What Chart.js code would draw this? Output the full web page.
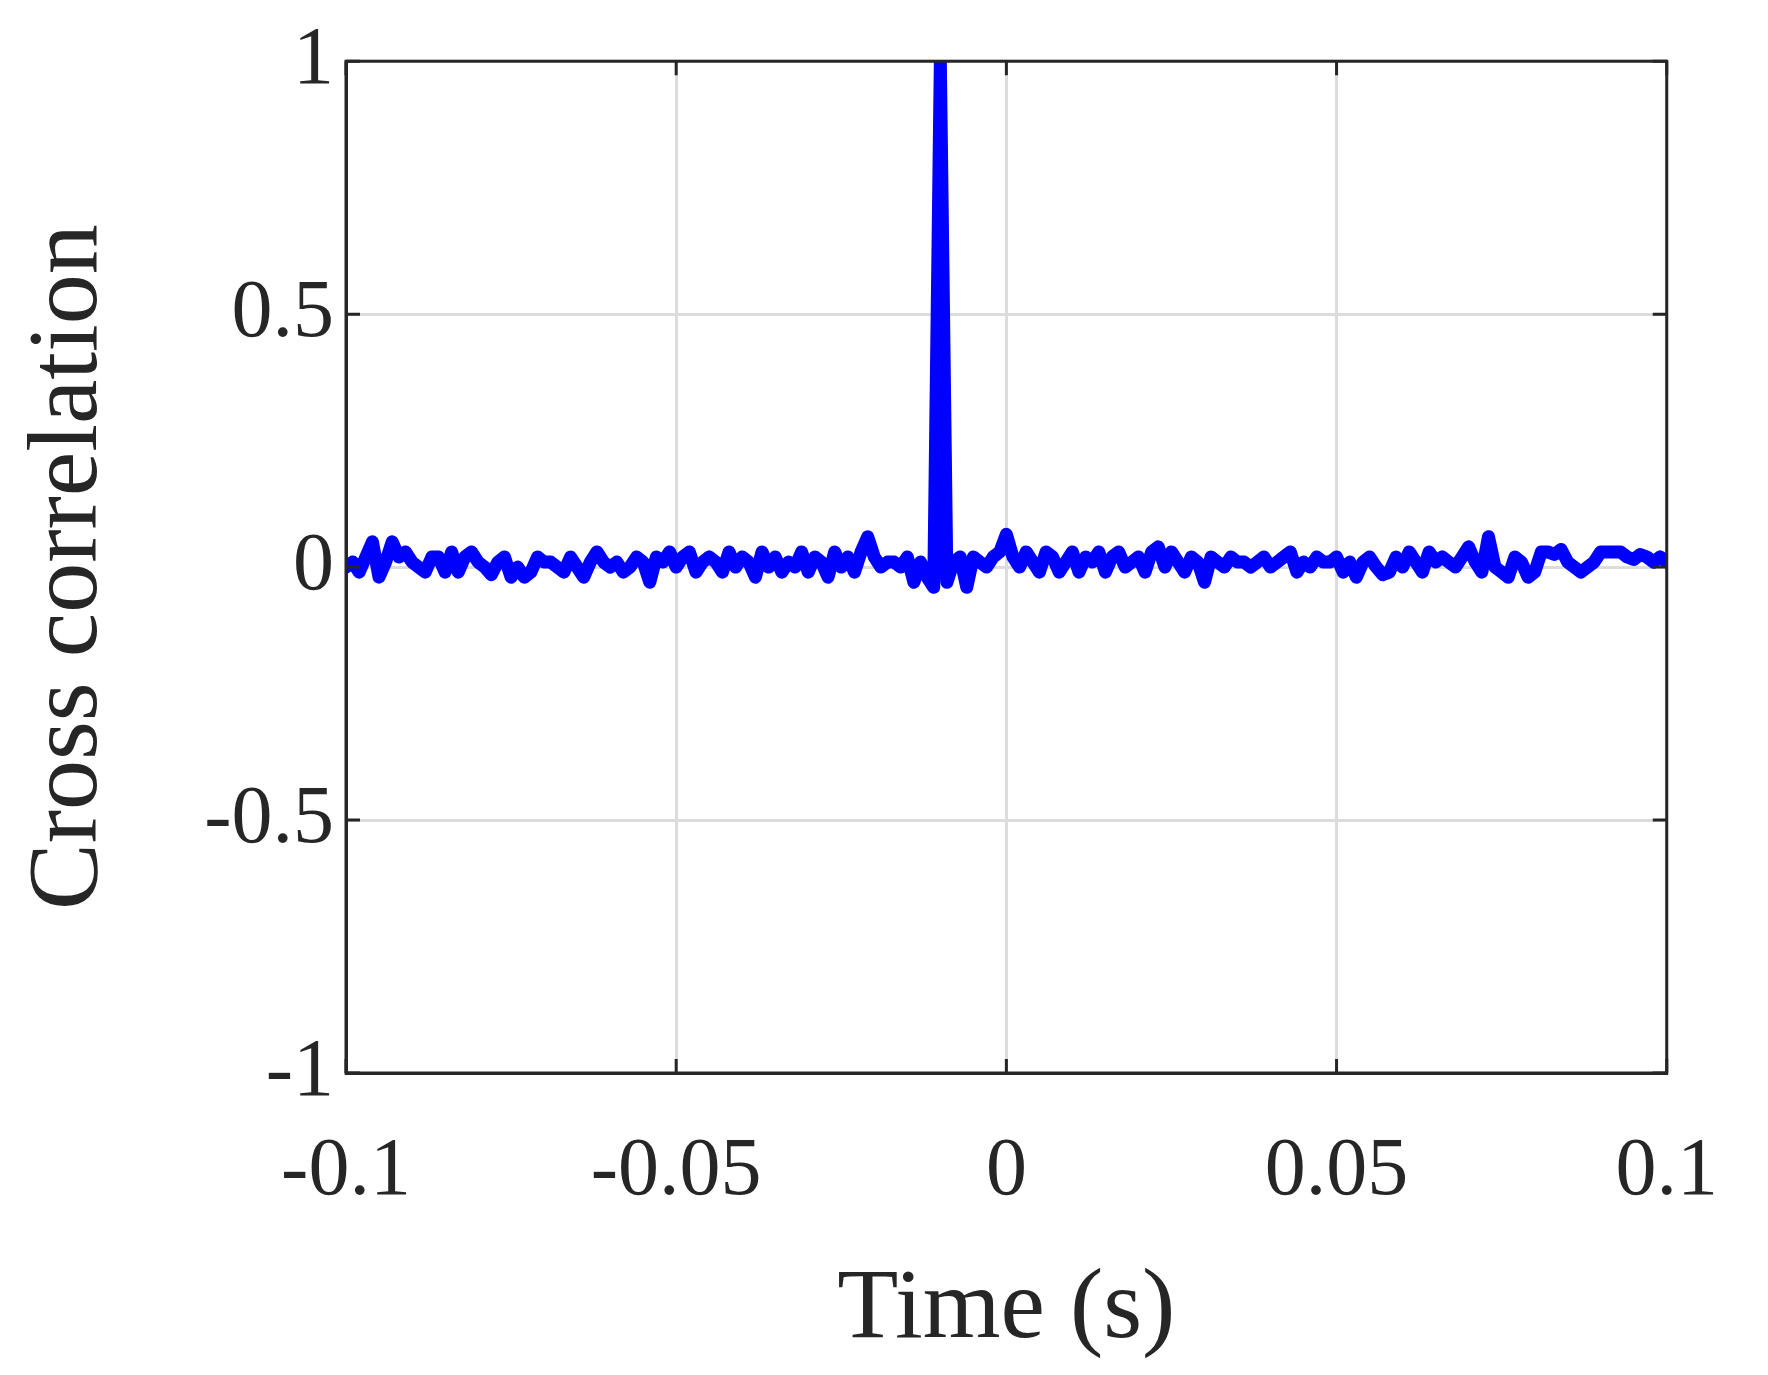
<!DOCTYPE html>
<html>
<head>
<meta charset="utf-8">
<script src="https://cdn.jsdelivr.net/npm/chart.js@4"></script>
<style>
  html, body { margin: 0; padding: 0; background: #fff; }
  canvas { display: block; }
</style>
</head>
<body>
<canvas id="myChart" width="1768" height="1375"></canvas>
<script>
// sample spacing of the cross correlation (s)
const tStart = -0.1;
const tStep = 0.001;

// cross correlation values, one per sample
const corr = [
  0, 0.01, -0.01, 0.02, 0.05, -0.02, 0.01, 0.05, 0.02, 0.03,
  0.01, 0, -0.01, 0.02, 0.02, -0.01, 0.03, -0.01, 0.02, 0.03,
  0.01, 0, -0.015, 0.01, 0.02, -0.02, 0, -0.02, -0.01, 0.02,
  0.01, 0.01, 0, -0.01, 0.02, 0, -0.02, 0.01, 0.03, 0.01,
  0, 0.01, -0.01, 0, 0.02, 0.01, -0.03, 0.02, 0.01, 0.03,
  0, 0.02, 0.03, -0.01, 0.01, 0.02, 0.01, -0.01, 0.03, 0,
  0.02, 0.01, -0.02, 0.03, 0, 0.02, -0.01, 0.01, 0, 0.03,
  -0.01, 0.02, 0.01, -0.02, 0.03, 0, 0.02, -0.01, 0.03, 0.06,
  0.02, 0, 0.01, 0.01, 0, 0.02, -0.03, 0.01, -0.02, -0.04,
  1, -0.03, 0.01, 0.02, -0.04, 0.02, 0.01, 0, 0.02, 0.03,
  0.065, 0.02, 0, 0.03, 0.01, -0.01, 0.03, 0.02, -0.01, 0.01,
  0.03, -0.01, 0.02, 0.01, 0.03, -0.01, 0.02, 0.03, 0, 0.01,
  0.02, -0.01, 0.03, 0.04, 0, 0.03, 0.01, -0.01, 0.02, 0.01,
  -0.03, 0.02, 0.01, 0, 0.02, 0.01, 0.01, 0, 0.01, 0.02,
  0, 0.01, 0.02, 0.03, -0.01, 0.01, 0, 0.02, 0.01, 0.01,
  0.02, -0.01, 0.01, -0.02, 0.01, 0.02, 0, -0.015, -0.01, 0.02,
  0, 0.03, 0.01, -0.01, 0.03, 0.01, 0.02, 0.01, 0, 0.02,
  0.04, 0.01, -0.01, 0.06, 0, -0.01, -0.02, 0.02, 0.01, -0.02,
  -0.01, 0.03, 0.03, 0.025, 0.035, 0.01, 0, -0.01, 0, 0.01,
  0.03, 0.03, 0.03, 0.03, 0.02, 0.015, 0.025, 0.02, 0.01, 0.02, 0.01
];

const xTicks = [-0.1, -0.05, 0, 0.05, 0.1];
const xTickLabels = ['-0.1', '-0.05', '0', '0.05', '0.1'];
const yTicks = [-1, -0.5, 0, 0.5, 1];
const yTickLabels = ['-1', '-0.5', '0', '0.5', '1'];

const puntos = corr.map((v, i) => ({ x: tStart + i * tStep, y: v }));

const fuente = 'Liberation Serif, Times New Roman, serif';
const tinta = '#262626';

function etiqueta(valores, textos, v) {
  for (let i = 0; i < valores.length; i++) {
    if (Math.abs(valores[i] - v) < 1e-9) return textos[i];
  }
  return '';
}

// marcas de tick hacia adentro, como en MATLAB
const ticksAdentro = {
  id: 'ticksAdentro',
  afterDraw(chart) {
    const c = chart.ctx;
    const a = chart.chartArea;
    const sx = chart.scales.x, sy = chart.scales.y;
    const len = 14;
    c.save();
    c.strokeStyle = tinta;
    c.lineWidth = 3;
    c.beginPath();
    xTicks.forEach(t => {
      const px = sx.getPixelForValue(t);
      c.moveTo(px, a.bottom); c.lineTo(px, a.bottom - len);
      c.moveTo(px, a.top); c.lineTo(px, a.top + len);
    });
    yTicks.forEach(t => {
      const py = sy.getPixelForValue(t);
      c.moveTo(a.left, py); c.lineTo(a.left + len, py);
      c.moveTo(a.right, py); c.lineTo(a.right - len, py);
    });
    c.stroke();
    c.strokeRect(a.left, a.top, a.right - a.left, a.bottom - a.top);
    c.restore();
  }
};

const ctx = document.getElementById('myChart');
new Chart(ctx, {
  type: 'line',
  data: {
    datasets: [{
      label: 'Cross correlation',
      data: puntos,
      borderColor: '#0000ff',
      borderWidth: 13,
      pointRadius: 0,
      tension: 0,
      borderJoinStyle: 'round',
      borderCapStyle: 'round'
    }]
  },
  options: {
    responsive: false,
    animation: false,
    devicePixelRatio: 1,
    layout: { padding: { top: 56, right: 20, left: 0, bottom: 0 } },
    plugins: { legend: { display: false }, tooltip: { enabled: false } },
    scales: {
      x: {
        type: 'linear',
        min: -0.1,
        max: 0.1,
        afterBuildTicks: s => { s.ticks = xTicks.map(v => ({ value: v })); },
        afterFit: s => { s.height = 302; },
        grid: { color: '#dcdcdc', lineWidth: 3, drawTicks: false },
        border: { color: tinta, width: 3 },
        ticks: {
          padding: 50,
          color: tinta,
          font: { family: fuente, size: 82 },
          maxRotation: 0,
          callback: v => etiqueta(xTicks, xTickLabels, v)
        },
        title: {
          display: true,
          text: 'Time (s)',
          color: tinta,
          font: { family: fuente, size: 100 },
          padding: { top: 0 }
        }
      },
      y: {
        min: -1,
        max: 1,
        afterBuildTicks: s => { s.ticks = yTicks.map(v => ({ value: v })); },
        afterFit: s => { s.width = 346; },
        grid: { color: '#dcdcdc', lineWidth: 3, drawTicks: false },
        border: { color: tinta, width: 3 },
        ticks: {
          padding: 12,
          color: tinta,
          font: { family: fuente, size: 82 },
          callback: v => etiqueta(yTicks, yTickLabels, v)
        },
        title: {
          display: true,
          text: 'Cross correlation',
          color: tinta,
          font: { family: fuente, size: 100 },
          padding: { top: 10, bottom: 0 }
        }
      }
    }
  },
  plugins: [ticksAdentro]
});
</script>
</body>
</html>
